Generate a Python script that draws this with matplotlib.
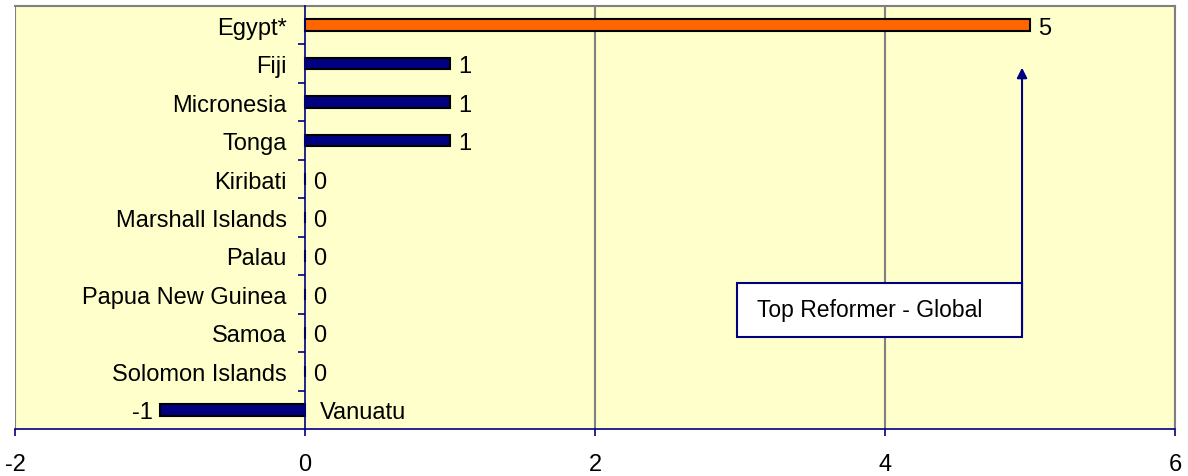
import matplotlib
matplotlib.use("Agg")
import matplotlib.pyplot as plt
from matplotlib.patches import Rectangle
from matplotlib.ticker import FixedLocator

categories = ["Egypt*", "Fiji", "Micronesia", "Tonga", "Kiribati", "Marshall Islands",
              "Palau", "Papua New Guinea", "Samoa", "Solomon Islands", "Vanuatu"]
values = [5, 1, 1, 1, 0, 0, 0, 0, 0, 0, -1]
bar_colors = ["#FF6600"] + ["#000080"] * 10
x_ticks = [-2, 0, 2, 4, 6]
annotation_text = "Top Reformer - Global"

plt.rcParams['font.family'] = ['Liberation Sans', 'DejaVu Sans']
FS = 17
NAVY = "#000080"
GRAY = "#808080"

fig = plt.figure(figsize=(11.88, 4.77), dpi=100)
ax = fig.add_axes([15/1188, 1-430/477, 1160/1188, 423/477])
ax.set_facecolor("#FFFFCC")

ypos = list(range(len(categories)))
ax.barh(ypos, values, height=0.3, color=bar_colors, edgecolor="black", linewidth=1.5, zorder=3)

ax.set_xlim(-2, 6)
ax.set_ylim(len(categories) - 0.5, -0.5)

# grid / borders
for xv in x_ticks:
    if xv != 0:
        ax.axvline(xv, color=GRAY, lw=1.5, zorder=1)
ax.spines['top'].set_color(GRAY)
ax.spines['top'].set_linewidth(1.5)
ax.spines['right'].set_color(GRAY)
ax.spines['right'].set_linewidth(1.5)
ax.spines['bottom'].set_color(NAVY)
ax.spines['bottom'].set_linewidth(1.2)
ax.spines['left'].set_position(('data', 0))
ax.spines['left'].set_color(NAVY)
ax.spines['left'].set_linewidth(1.2)
ax.spines['left'].set_zorder(4)

ax.set_xticks(x_ticks)
ax.set_xticklabels([str(t) for t in x_ticks], fontsize=FS)
ax.tick_params(axis='x', direction='out', length=5, color=NAVY, width=1.2, pad=12)

ax.set_yticks(ypos)
labels = list(categories)
labels[-1] = ""
ax.set_yticklabels(labels, fontsize=FS)
ax.tick_params(axis='y', which='major', length=0, pad=13)
ax.yaxis.set_minor_locator(FixedLocator([i + 0.5 for i in range(len(categories) - 1)]))
ax.tick_params(axis='y', which='minor', direction='out', length=5, color=NAVY, width=1.2)

# Vanuatu label on the right of axis
ax.annotate(categories[-1], xy=(0, ypos[-1]), xytext=(11, 0), textcoords='offset points',
            ha='left', va='center_baseline', fontsize=FS)

# value labels
for y, v in zip(ypos, values):
    if v < 0:
        ax.annotate(str(v), xy=(v, y), xytext=(-5, 0), textcoords='offset points',
                    ha='right', va='center_baseline', fontsize=FS)
    else:
        ax.annotate(str(v), xy=(v, y), xytext=(6, 0), textcoords='offset points',
                    ha='left', va='center_baseline', fontsize=FS)

# annotation box and arrow
ax.add_patch(Rectangle((2.98, 6.7), 4.945 - 2.98, 1.4, facecolor="white",
                       edgecolor=NAVY, lw=1.5, zorder=5))
ax.text(3.12, 7.4, annotation_text, fontsize=FS - 0.5, va='center', ha='left', zorder=6)
ax.annotate("", xy=(4.945, 1.03), xytext=(4.945, 8.0),
            arrowprops=dict(arrowstyle='-|>', color=NAVY, lw=1.5, mutation_scale=15),
            zorder=6)

fig.savefig("out.png", dpi=100)
